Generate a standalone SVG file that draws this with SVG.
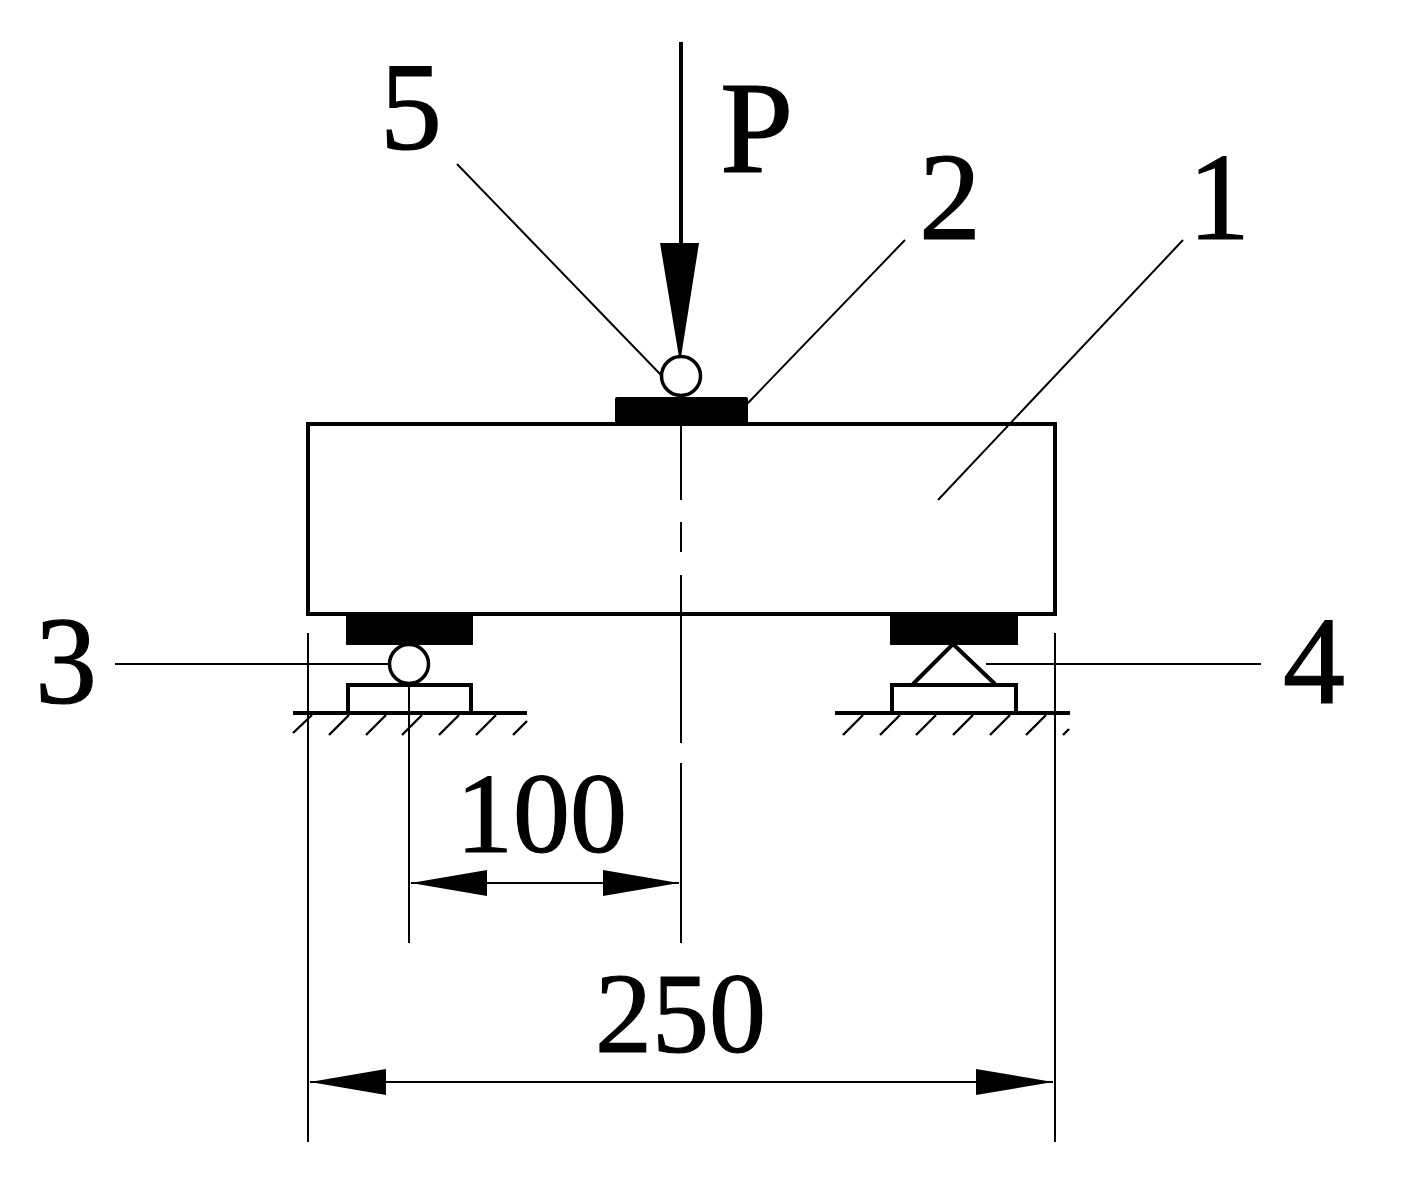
<svg xmlns="http://www.w3.org/2000/svg" width="1404" height="1192" viewBox="0 0 1404 1192">
<style>
.thick{fill:none;stroke:#000;stroke-width:4}
.thin{fill:none;stroke:#000;stroke-width:2}
.hatch{fill:none;stroke:#000;stroke-width:2.4}
.black{fill:#000;stroke:none}
.label{font-family:"Liberation Serif","Times New Roman",serif;fill:#000;stroke:#000;stroke-width:1.2}
</style>
<rect width="1404" height="1192" fill="#fff"/>
<g id="connectors">
<path class="thick" d="M681 42V245"/>
<path class="thin" d="M681 424V500M681 522V552M681 575V743M681 763V943"/>
<path class="thin" d="M457 164L661 375M905 240L747 404M1183 240L938 500"/>
<path class="thin" d="M115 664H388M986 664H1261"/>
<path class="thin" d="M308 633V1142M1055 633V1142M409 686V943"/>
<path class="thin" d="M411 883H679M310 1082H1053"/>
<polygon class="black" points="660,243 699,243 681,357 679,357"/>
<polygon class="black" points="411,883 487,870 487,896"/>
<polygon class="black" points="679,883 603,870 603,896"/>
<polygon class="black" points="310,1082 386,1069 386,1095"/>
<polygon class="black" points="1053,1082 976,1069 976,1095"/>
</g>
<g id="node-beam"><rect class="thick" x="308" y="424" width="747" height="190"/></g>
<g id="node-top-plate"><rect class="black" x="615" y="397" width="133" height="27" rx="2"/></g>
<g id="node-top-roller"><circle cx="681" cy="376" r="19.5" fill="#fff" stroke="#000" stroke-width="3.5"/></g>
<g id="node-left-support">
<rect class="black" x="346" y="614" width="127" height="31"/>
<circle cx="409" cy="664" r="19.5" fill="#fff" stroke="#000" stroke-width="3.5"/>
<path class="thick" d="M348 712V685H471V712"/>
<path class="thick" d="M293 713H527"/>
<path class="hatch" d="M293 733L312 715M329 735L349 715M366 735L386 715M402 735L422 715M439 735L459 715M476 735L496 715M513 735L527 721"/>
</g>
<g id="node-right-support">
<rect class="black" x="890" y="614" width="128" height="31"/>
<path class="thick" d="M913 684L953 644L995 684"/>
<path class="thick" d="M892 712V685H1016V712"/>
<path class="thick" d="M835 713H1070"/>
<path class="hatch" d="M843 735L863 715M880 735L900 715M916 735L936 715M953 735L973 715M990 735L1010 715M1026 735L1046 715M1063 735L1069 729"/>
</g>
<g id="labels">
<text class="label" x="380" y="149" font-size="124">5</text>
<text class="label" x="720" y="172" font-size="132">P</text>
<text class="label" x="919" y="239" font-size="124">2</text>
<text class="label" x="1188" y="239" font-size="124">1</text>
<text class="label" x="35" y="703" font-size="124">3</text>
<text class="label" x="1283" y="703" font-size="124">4</text>
<text class="label" x="456" y="852" font-size="114">100</text>
<text class="label" x="595" y="1052" font-size="114">250</text>
</g>
</svg>
